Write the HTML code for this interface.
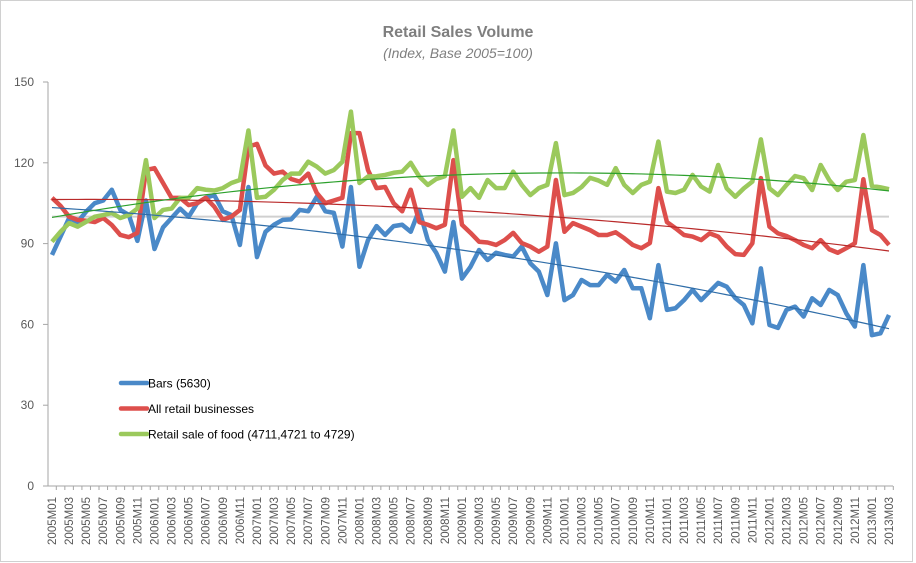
<!DOCTYPE html>
<html><head><meta charset="utf-8"><style>
body{margin:0;background:#fff;font-family:"Liberation Sans",sans-serif;}
#wrap{position:relative;width:916px;height:563px;overflow:hidden;}
</style></head><body>
<div id="wrap">
<svg id="chart" width="916" height="563" xmlns="http://www.w3.org/2000/svg">
<rect x="0.5" y="0.5" width="912" height="561" fill="#fff" stroke="#d0d0d0"/>
<text x="458" y="37" text-anchor="middle" font-size="16" font-weight="bold" fill="#7f7f7f">Retail Sales  Volume</text>
<text x="458" y="58" text-anchor="middle" font-size="14" font-style="italic" fill="#7f7f7f">(Index, Base 2005=100)</text>
<g id="grid"></g><g id="axes"></g><g id="series"></g><g id="legend"></g>
</svg>
</div>
<script>
const yTicks=[0,30,60,90,120,150];
const bars=[85.8,92.6,99.5,98,101.9,105,106,110,102.5,100.6,91,106,88,96,99.5,103,100,105,107,108,102,100.6,89.5,111,85,94.4,97,98.8,99,102.5,102,107.4,102,101.4,88.9,111,81.4,91.3,96.5,93.2,96.5,97,94.4,102.5,91.3,86.5,79.6,98,77,81.4,87.6,83.9,86.6,85.8,85.2,88.9,82.7,79.6,70.9,90.1,69,70.9,76.5,74.6,74.6,78.4,75.9,80.2,73.4,73.4,62.3,82,65.4,66,69,72.8,69,72.2,75.4,74,69.8,67.2,60.4,80.8,59.8,58.7,65.4,66.6,62.9,69.7,67.2,72.8,70.9,64.1,59.2,82,56,56.7,63.5];
const retail=[107,104,100,98.8,98.5,98,99.5,96.9,93.2,92.4,94,117.3,118,112.5,107,107,104.3,105,107,103.7,98.8,100,102.5,126,127,119,116,116.7,114,113,116,108.8,105,106,107,131,131,117.3,110.6,111,105,102,110,98,97,95.7,97,121,97,94,90.7,90.4,89.5,91.3,94,90.2,88.9,87,88.9,113.6,94.4,97.6,96.3,95,93.2,93.2,94.2,92,89.5,88.3,90.2,110.6,98,95.7,93.2,92.6,91.3,93.8,92.6,88.9,86.1,85.8,90.1,114.3,96.3,93.8,92.8,91.3,89.5,88.3,91.3,87.9,86.6,88.3,90.1,113.9,95,93.2,89.5];
const food=[90.7,94.4,97.6,96.3,98.1,100,100.6,101.4,99.5,100.6,103,121,99.5,102.5,103,107,107,110.6,110,109.7,110.6,112.5,113.6,132,107,107.4,110,113.6,116,116,120.4,118.6,116,117.3,120.4,139,112.5,114.9,115,115.5,116.3,116.7,120,114.9,111.8,114,115,132,107.4,110.6,107,113.6,110.6,110.6,116.7,111.8,108,110.6,111.8,127.3,108,108.8,111,114.4,113.4,111.8,118,111.8,108.8,111.8,113,127.9,109.3,108.8,110,115.5,111.2,109.3,119.2,110.5,107.4,110.5,113,128.7,110.5,108,111.8,115.1,114.3,109.9,119.2,113.6,109.9,113,113.6,130.3,111.4,110.9,110.2];
const seriesNames=["Bars (5630)","All retail businesses","Retail sale of food (4711,4721 to 4729)"];
const baseValue=100;

const NS="http://www.w3.org/2000/svg";
const X0=52,X1=889,Y0=486,Y150=82;
const n=bars.length;
function xs(i){return X0+(X1-X0)*i/(n-1);}
function ys(v){return Y0-(Y0-Y150)*v/150;}
function labelFor(i){const y=2005+Math.floor(i/12),m=i%12+1;return y+"M"+(m<10?"0":"")+m;}
function mk(tag,attrs,parent){const e=document.createElementNS(NS,tag);for(const k in attrs)e.setAttribute(k,attrs[k]);parent.appendChild(e);return e;}
const axes=document.getElementById('axes'),grid=document.getElementById('grid'),ser=document.getElementById('series'),leg=document.getElementById('legend');

// y axis
let yl=mk('line',{x1:48,y1:Y150,x2:48,y2:Y0,stroke:'#a6a6a6','stroke-width':1},axes);


yTicks.forEach(t=>{
 const tk=mk('line',{x1:43,x2:48,y1:ys(t),y2:ys(t),stroke:'#a6a6a6'},axes);
 
 
 const tx=mk('text',{x:34,y:ys(t)+4,'text-anchor':'end','font-size':12,fill:'#595959'},axes);
 tx.textContent=t;
 
 
});
// x axis
let xl=mk('line',{x1:48,y1:Y0,x2:893,y2:Y0,stroke:'#a6a6a6','stroke-width':1},axes);


for(let i=0;i<n;i++){
 const tk=mk('line',{x1:xs(i)+4.3,x2:xs(i)+4.3,y1:Y0,y2:Y0+4,stroke:'#a6a6a6'},axes);
 
 
 if(i%2===0){
  const x=xs(i)+4,y=497;
  const tx=mk('text',{x:x,y:y,'text-anchor':'end','font-size':11.5,fill:'#595959',transform:`rotate(-90 ${x} ${y})`},axes);
  tx.textContent=labelFor(i);
  
  
 }
}
// base line
let bl=mk('line',{x1:X0,x2:X1,y1:ys(baseValue),y2:ys(baseValue),stroke:'#d0d0d0','stroke-width':2},grid);



function quadFit(a){
 let S=[0,0,0,0,0],T=[0,0,0];
 a.forEach((v,i)=>{let p=1;for(let k=0;k<5;k++){S[k]+=p;if(k<3)T[k]+=v*p;p*=i;}});
 const M=[[S[0],S[1],S[2],T[0]],[S[1],S[2],S[3],T[1]],[S[2],S[3],S[4],T[2]]];
 for(let c=0;c<3;c++){for(let r=c+1;r<3;r++){const f=M[r][c]/M[c][c];for(let k=c;k<4;k++)M[r][k]-=f*M[c][k];}}
 const b=[0,0,0];for(let r=2;r>=0;r--){let s=M[r][3];for(let k=r+1;k<3;k++)s-=M[r][k]*b[k];b[r]=s/M[r][r];}
 return i=>b[0]+b[1]*i+b[2]*i*i;
}
const defs=[[bars,'#4a89c8','#2f6da8','bars'],[retail,'#dd4f4c','#b92a2a','all-retail'],[food,'#9bc95c','#2ca02c','food-retail']];
defs.forEach(([d,c,tc,nm])=>{
 const p=mk('polyline',{points:d.map((v,i)=>xs(i)+','+ys(v)).join(' '),fill:'none',stroke:c,'stroke-width':4.5,'stroke-linejoin':'round'},ser);
 
 
});
defs.forEach(([d,c,tc,nm])=>{
 const f=quadFit(d);
 const pts=[];for(let i=0;i<n;i++)pts.push(xs(i)+','+ys(f(i)));
 const t=mk('polyline',{points:pts.join(' '),fill:'none',stroke:tc,'stroke-width':1.2},ser);
 
 
});
// legend
defs.forEach(([d,c,tc,nm],k)=>{
 const y=383+k*25.5;
 const l=mk('line',{x1:121,x2:147,y1:y,y2:y,stroke:c,'stroke-width':4.5,'stroke-linecap':'round'},leg);
 
 
 const t=mk('text',{x:148,y:y+4.5,'font-size':12,fill:'#000'},leg);
 t.textContent=seriesNames[k];
 
 
});
</script>
</body></html>
